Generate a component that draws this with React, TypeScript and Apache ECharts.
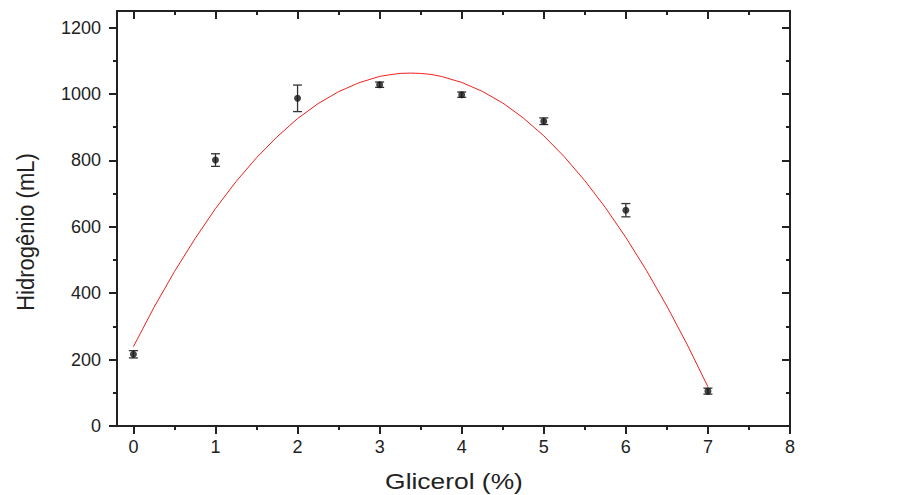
import React, { useEffect, useRef } from "react";
import * as echarts from "echarts";

// Data
const glycerol = [0, 1, 2, 3, 4, 5, 6, 7];
const hydrogen = [216, 801, 987, 1028, 998, 918, 650, 105];
const hydrogenErr = [11, 19, 40, 8, 8, 10, 20, 9];

// Fitted (quadratic) curve
const fitX = [0, 0.25, 0.5, 0.75, 1, 1.25, 1.5, 1.75, 2, 2.25, 2.5, 2.75, 3, 3.125, 3.25, 3.375, 3.5, 3.625, 3.75, 4, 4.25, 4.5, 4.75, 5, 5.25, 5.5, 5.75, 6, 6.25, 6.5, 6.75, 7];
const fitY = [239, 357, 465, 564, 655, 736, 808, 871, 926, 971, 1007, 1034, 1053, 1058, 1062, 1063, 1062, 1059, 1053, 1035, 1008, 973, 928, 874, 811, 739, 658, 568, 469, 361, 244, 118];

// Tick values
const xMajorTicks = [0, 1, 2, 3, 4, 5, 6, 7, 8];
const xMinorTicks = [0.5, 1.5, 2.5, 3.5, 4.5, 5.5, 6.5, 7.5];
const yMajorTicks = [0, 200, 400, 600, 800, 1000, 1200];
const yMinorTicks = [100, 300, 500, 700, 900, 1100];

const xTitle = "Glicerol (%)";
const yTitle = "Hidrogênio (mL)";

const FONT = "'Liberation Sans', Arial, Helvetica, sans-serif";
const AXIS_COLOR = "#222";

export default function App() {
  const ref = useRef<HTMLDivElement>(null);

  useEffect(() => {
    if (!ref.current) return;
    const chart = echarts.init(ref.current, null, { renderer: "svg" });

    const X_MIN = -0.2, X_MAX = 8, Y_MIN = 0, Y_MAX = 1250;
    const lineStyle = { color: AXIS_COLOR, width: 2 };
    const plain = (v: number) => String(v);

    const mkX = (position: string, values: number[], len: number, inside: boolean, showLine: boolean, labels: boolean) => ({
      type: "value",
      position,
      min: X_MIN,
      max: X_MAX,
      axisLine: { show: showLine, onZero: false, lineStyle },
      axisTick: { show: true, inside, length: len, customValues: values, lineStyle: { color: AXIS_COLOR, width: 2 } },
      axisLabel: labels
        ? { show: true, customValues: values, formatter: plain, fontSize: 18, fontFamily: FONT, color: AXIS_COLOR, margin: 12 }
        : { show: false },
      splitLine: { show: false },
    });
    const mkY = (position: string, values: number[], len: number, inside: boolean, showLine: boolean, labels: boolean) => ({
      type: "value",
      position,
      min: Y_MIN,
      max: Y_MAX,
      axisLine: { show: showLine, onZero: false, lineStyle },
      axisTick: { show: true, inside, length: len, customValues: values, lineStyle: { color: AXIS_COLOR, width: 2 } },
      axisLabel: labels
        ? { show: true, customValues: values, formatter: plain, fontSize: 18, fontFamily: FONT, color: AXIS_COLOR, margin: 16 }
        : { show: false },
      splitLine: { show: false },
    });

    const errData = glycerol.map((x, i) => [x, hydrogen[i] - hydrogenErr[i], hydrogen[i] + hydrogenErr[i]]);

    chart.setOption({
      animation: false,
      backgroundColor: "#ffffff",
      grid: { left: 117, right: 120, top: 11, bottom: 69, containLabel: false },
      xAxis: [
        mkX("bottom", xMajorTicks, 8, false, true, true),
        mkX("bottom", xMinorTicks, 4, false, false, false),
        mkX("top", xMajorTicks, 8, true, true, false),
        mkX("top", xMinorTicks, 4, true, false, false),
      ],
      yAxis: [
        mkY("left", yMajorTicks, 8, false, true, true),
        mkY("left", yMinorTicks, 4, false, false, false),
        mkY("right", yMajorTicks, 8, true, true, false),
        mkY("right", yMinorTicks, 4, true, false, false),
      ],
      graphic: [
        {
          type: "text",
          x: 454,
          y: 481,
          scaleX: 1.2,
          style: { text: xTitle, fontSize: 22, fontFamily: FONT, fill: AXIS_COLOR, align: "center", verticalAlign: "middle" },
        },
        {
          type: "text",
          x: 26,
          y: 232,
          rotation: Math.PI / 2,
          scaleY: 1.1,
          style: { text: yTitle, fontSize: 22, fontFamily: FONT, fill: AXIS_COLOR, align: "center", verticalAlign: "middle" },
        },
      ],
      series: [
        {
          type: "line",
          xAxisIndex: 0,
          yAxisIndex: 0,
          data: fitX.map((x, i) => [x, fitY[i]]),
          showSymbol: false,
          smooth: false,
          lineStyle: { color: "#f02020", width: 1 },
          z: 2,
        },
        {
          type: "custom",
          xAxisIndex: 0,
          yAxisIndex: 0,
          data: errData,
          z: 3,
          renderItem: (params: any, api: any) => {
            const x = api.value(0);
            const lo = api.coord([x, api.value(1)]);
            const hi = api.coord([x, api.value(2)]);
            const hw = 4.5;
            const st = { stroke: "#333", lineWidth: 1.3 };
            return {
              type: "group",
              children: [
                { type: "line", shape: { x1: lo[0], y1: lo[1], x2: hi[0], y2: hi[1] }, style: st },
                { type: "line", shape: { x1: lo[0] - hw, y1: lo[1], x2: lo[0] + hw, y2: lo[1] }, style: st },
                { type: "line", shape: { x1: hi[0] - hw, y1: hi[1], x2: hi[0] + hw, y2: hi[1] }, style: st },
              ],
            };
          },
        },
        {
          type: "scatter",
          xAxisIndex: 0,
          yAxisIndex: 0,
          data: glycerol.map((x, i) => [x, hydrogen[i]]),
          symbol: "circle",
          symbolSize: 7,
          itemStyle: { color: "#151515" },
          z: 4,
        },
      ],
    });

    return () => chart.dispose();
  }, []);

  return (
    <div
      ref={ref}
      style={{ position: "absolute", left: 0, top: 0, width: 910, height: 495, background: "#fff" }}
    />
  );
}
